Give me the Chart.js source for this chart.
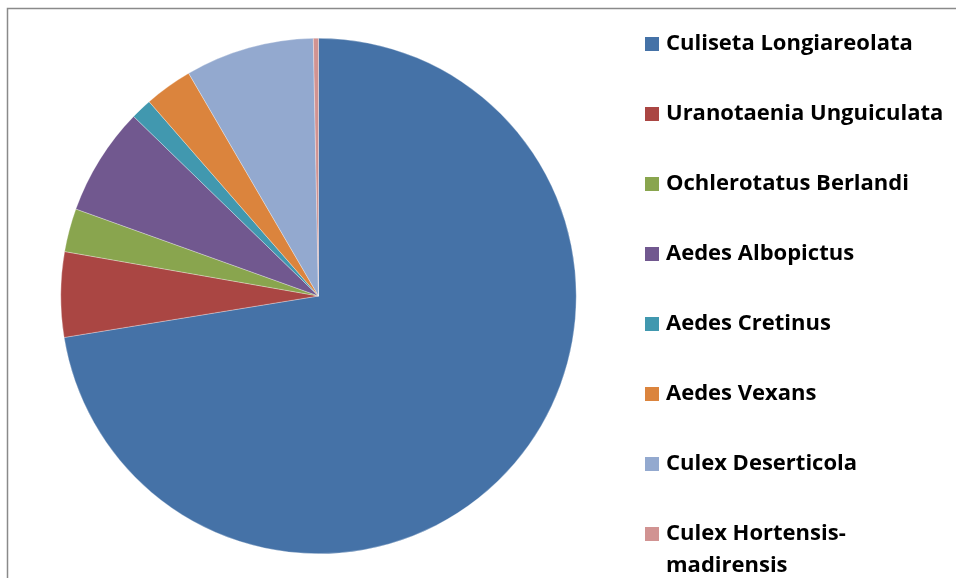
<!DOCTYPE html>
<html>
<head>
<meta charset="utf-8">
<script src="https://cdn.jsdelivr.net/npm/chart.js@4"></script>
<style>
  html, body { margin: 0; padding: 0; background: #fff; overflow: hidden; }
  #wrap { width: 956px; height: 578px; position: relative; }
</style>
</head>
<body>
<div id="wrap"><canvas id="speciesPie"></canvas></div>
<script>
// Share of each mosquito species in the sample (%)
const species = [
    'Culiseta Longiareolata',
    'Uranotaenia Unguiculata',
    'Ochlerotatus Berlandi',
    'Aedes Albopictus',
    'Aedes Cretinus',
    'Aedes Vexans',
    'Culex Deserticola',
    ['Culex Hortensis-', 'madirensis']
];
const shares = [72.42, 5.33, 2.72, 6.79, 1.32, 3.01, 8.08, 0.32];
const sliceColors = ['#4572A7', '#AA4643', '#89A54E', '#71588F', '#4198AF', '#DB843D', '#93A9CF', '#D19392'];

// Outer frame of the chart box (only its top and left edges are visible)
const framePlugin = {
    id: 'frame',
    beforeDraw(chart) {
        const ctx = chart.ctx;
        ctx.save();
        ctx.strokeStyle = '#8a8a8a';
        ctx.lineWidth = 1.5;
        ctx.strokeRect(7.5, 8.5, 2000, 2000);
        ctx.restore();
    }
};

// Legend on the right, one row per species, long names wrap to a second line
const sideLegend = {
    id: 'sideLegend',
    afterDraw(chart) {
        const ctx = chart.ctx;
        const labels = chart.data.labels;
        const colors = chart.data.datasets[0].backgroundColor;
        ctx.save();
        ctx.font = 'bold 22px "Open Sans", sans-serif';
        ctx.textBaseline = 'alphabetic';
        labels.forEach((label, i) => {
            const base = 49.5 + i * 70;
            ctx.fillStyle = colors[i];
            ctx.fillRect(645, base - 12.5, 14, 14);
            ctx.fillStyle = '#000';
            const lines = Array.isArray(label) ? label : [label];
            lines.forEach((line, j) => ctx.fillText(line, 666, base + j * 32));
        });
        ctx.restore();
    }
};

const ctx = document.getElementById('speciesPie').getContext('2d');
new Chart(ctx, {
    type: 'pie',
    data: {
        labels: species,
        datasets: [{
            data: shares,
            backgroundColor: sliceColors,
            borderColor: 'rgba(255,255,255,0.6)',
            borderWidth: 0.5
        }]
    },
    options: {
        responsive: true,
        maintainAspectRatio: false,
        animation: false,
        layout: {
            padding: { left: 60.5, top: 38, right: 379.5, bottom: 24 }
        },
        plugins: {
            legend: { display: false },
            tooltip: { enabled: false }
        }
    },
    plugins: [framePlugin, sideLegend]
});
</script>
</body>
</html>
